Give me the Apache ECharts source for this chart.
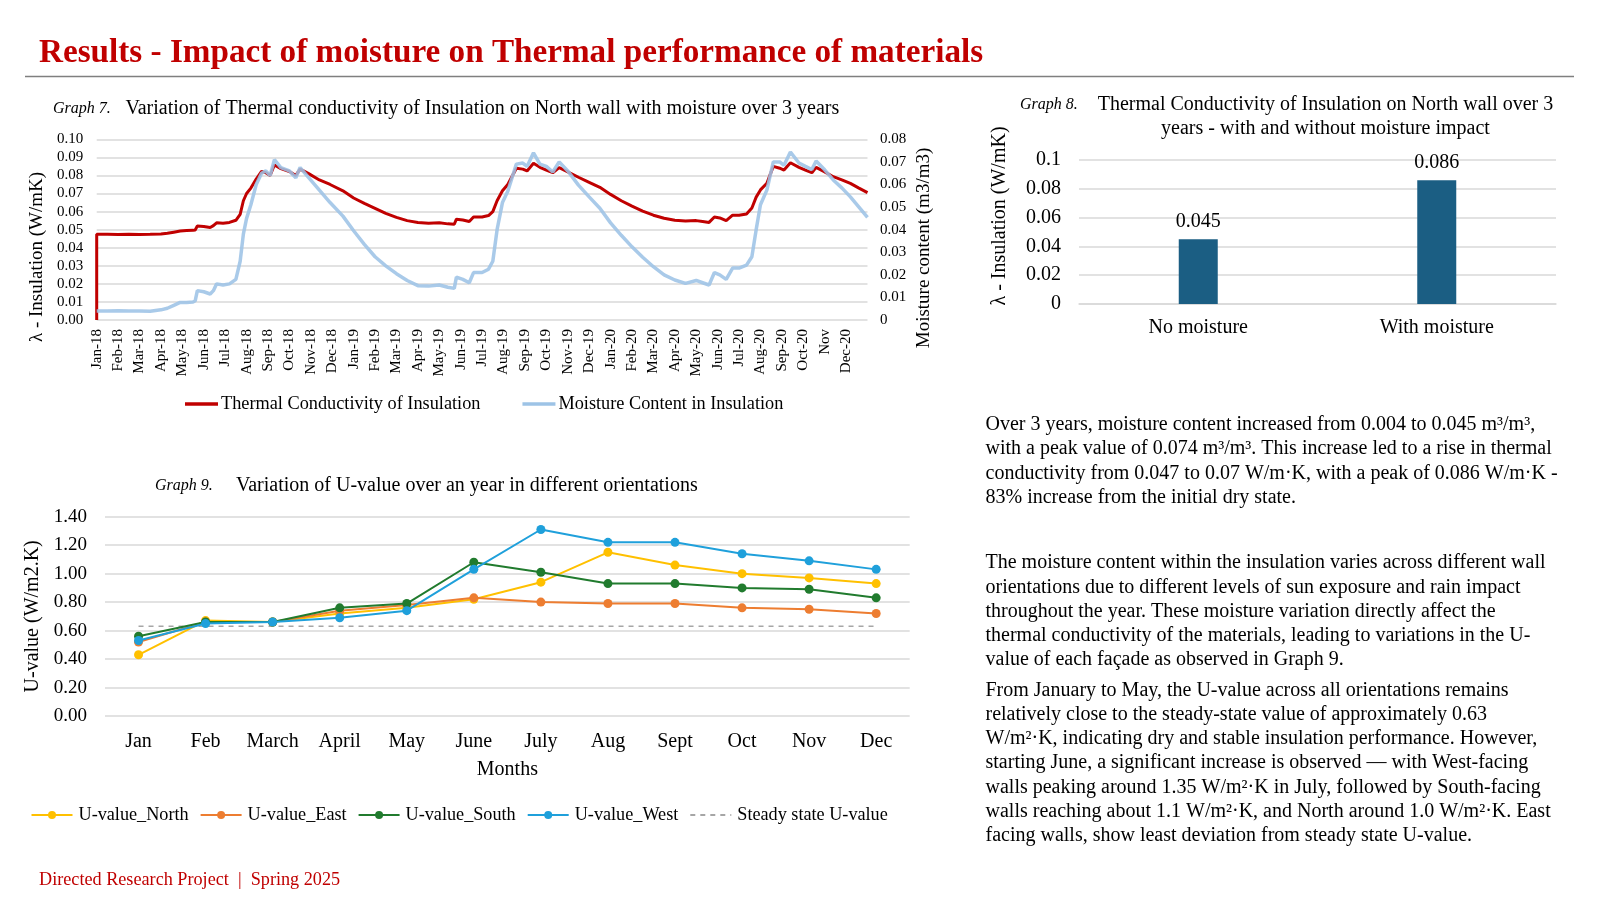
<!DOCTYPE html>
<html>
<head>
<meta charset="utf-8">
<script src="https://cdn.jsdelivr.net/npm/echarts/dist/echarts.min.js"></script>
<style>
html,body{margin:0;padding:0;background:#fff;}
#main{width:1600px;height:900px;}
</style>
</head>
<body>
<div id="main"></div>
<script>
// ---------- Graph 7 data ----------
const monthLabels = ['Jan-18','Feb-18','Mar-18','Apr-18','May-18','Jun-18','Jul-18','Aug-18','Sep-18','Oct-18','Nov-18','Dec-18',
  'Jan-19','Feb-19','Mar-19','Apr-19','May-19','Jun-19','Jul-19','Aug-19','Sep-19','Oct-19','Nov-19','Dec-19',
  'Jan-20','Feb-20','Mar-20','Apr-20','May-20','Jun-20','Jul-20','Aug-20','Sep-20','Oct-20','Nov','Dec-20'];
// sample times in months since Jan-2018
const sampleMonth = [0,0,0.5,1,1.5,2,2.5,3,3.3,3.6,
  3.9,4.2,4.5,4.6,4.7,5,5.3,5.45,5.6,5.9,
  6.2,6.5,6.7,6.85,7,7.2,7.45,7.7,7.9,8.1,
  8.3,8.6,9,9.3,9.5,9.9,10.4,10.9,11.5,12,
  12.5,13,13.5,14,14.5,15,15.5,16,16.4,16.7,
  16.8,17.1,17.4,17.6,18,18.3,18.5,18.7,18.95,19.2,
  19.6,19.9,20.1,20.4,20.7,21,21.3,21.6,22,22.5,
  23,23.5,24,24.5,25,25.5,26,26.5,27,27.5,
  28,28.3,28.6,28.85,29.1,29.4,29.7,30,30.35,30.6,
  30.8,31,31.3,31.6,31.9,32.1,32.4,32.8,33.1,33.4,
  33.6,34,34.4,34.8,35.2,35.6,36];
const thermalConductivity = [0,0.0474,0.0474,0.0473,0.0474,0.0473,0.0474,0.0476,0.048,0.0486,
  0.0492,0.0495,0.0496,0.0498,0.052,0.0518,0.0512,0.0522,0.0538,0.0536,
  0.054,0.0552,0.0585,0.066,0.07,0.073,0.078,0.0822,0.0815,0.08,
  0.0858,0.0838,0.0822,0.08,0.0835,0.081,0.0775,0.075,0.0715,0.0675,
  0.0645,0.0618,0.059,0.0568,0.055,0.054,0.0535,0.0538,0.0532,0.053,
  0.0558,0.0553,0.0545,0.057,0.057,0.0578,0.06,0.066,0.0715,0.075,
  0.084,0.0835,0.0825,0.0867,0.0845,0.083,0.0815,0.0843,0.082,0.079,
  0.0762,0.0734,0.0695,0.066,0.063,0.0603,0.058,0.0563,0.0552,0.0548,
  0.055,0.0545,0.054,0.057,0.0565,0.055,0.058,0.058,0.0587,0.062,
  0.068,0.072,0.0757,0.085,0.084,0.083,0.087,0.0845,0.083,0.0815,
  0.0845,0.082,0.0793,0.0775,0.0756,0.073,0.0705];
const moistureContent = [0.004,0.004,0.004,0.0041,0.004,0.004,0.0039,0.0045,0.0052,0.0065,
  0.0078,0.0078,0.008,0.0085,0.013,0.0125,0.0115,0.013,0.016,0.0155,
  0.016,0.018,0.026,0.038,0.045,0.051,0.06,0.065,0.066,0.064,
  0.071,0.0675,0.066,0.063,0.0675,0.063,0.0575,0.052,0.046,0.0395,
  0.0335,0.028,0.024,0.0205,0.0175,0.0152,0.015,0.0155,0.0145,0.014,
  0.019,0.018,0.0165,0.021,0.021,0.0225,0.026,0.04,0.052,0.057,
  0.069,0.0695,0.068,0.074,0.069,0.068,0.0655,0.07,0.066,0.0597,
  0.0545,0.0495,0.043,0.0375,0.0324,0.0278,0.0236,0.02,0.0177,0.0162,
  0.0175,0.0165,0.0155,0.021,0.02,0.018,0.023,0.023,0.0243,0.028,
  0.04,0.051,0.0575,0.07,0.07,0.0685,0.0744,0.0695,0.068,0.0666,
  0.0704,0.0665,0.062,0.0585,0.0545,0.05,0.0454];

// ---------- Graph 8 data ----------
const barCategories = ['No moisture','With moisture'];
const barValues = [0.045, 0.086];

// ---------- Graph 9 data ----------
const uMonths = ['Jan','Feb','March','April','May','June','July','Aug','Sept','Oct','Nov','Dec'];
const uNorth = [0.43,0.67,0.66,0.72,0.76,0.82,0.94,1.15,1.06,1.00,0.97,0.93];
const uEast  = [0.52,0.66,0.66,0.74,0.78,0.83,0.80,0.79,0.79,0.76,0.75,0.72];
const uSouth = [0.56,0.66,0.66,0.76,0.79,1.08,1.01,0.93,0.93,0.90,0.89,0.83];
const uWest  = [0.53,0.65,0.66,0.69,0.74,1.03,1.31,1.22,1.22,1.14,1.09,1.03];
const uSteady = [0.63,0.63,0.63,0.63,0.63,0.63,0.63,0.63,0.63,0.63,0.63,0.63];

// ---------- Text ----------
const para1 = ['Over 3 years, moisture content increased from 0.004 to 0.045 m\u00b3/m\u00b3,',
  'with a peak value of 0.074 m\u00b3/m\u00b3. This increase led to a rise in thermal',
  'conductivity from 0.047 to 0.07 W/m\u00b7K, with a peak of 0.086 W/m\u00b7K -',
  '83% increase from the initial dry state.'];
const para2 = ['The moisture content within the insulation varies across different wall',
  'orientations due to different levels of sun exposure and rain impact',
  'throughout the year. These moisture variation directly affect the',
  'thermal conductivity of the materials, leading to variations in the U-',
  'value of each fa\u00e7ade as observed in Graph 9.'];
const para3 = ['From January to May, the U-value across all orientations remains',
  'relatively close to the steady-state value of approximately 0.63',
  'W/m\u00b2\u00b7K, indicating dry and stable insulation performance. However,',
  'starting June, a significant increase is observed \u2014 with West-facing',
  'walls peaking around 1.35 W/m\u00b2\u00b7K in July, followed by South-facing',
  'walls reaching about 1.1 W/m\u00b2\u00b7K, and North around 1.0 W/m\u00b2\u00b7K. East',
  'facing walls, show least deviation from steady state U-value.'];

const FF = "'Liberation Serif', 'Times New Roman', serif";
const RED = '#C00000';
const GRID_C = '#D9D9D9';

function txt(x, y, text, size, opts) {
  opts = opts || {};
  return {
    type: 'text', x: x, y: y, rotation: opts.rotation || 0, z: 10,
    style: {
      text: text,
      font: (opts.style || '') + ' ' + (opts.weight || '') + ' ' + size + 'px ' + FF,
      fill: opts.color || '#000',
      textAlign: opts.align || 'left',
      textVerticalAlign: 'middle'
    }
  };
}

const graphics = [];
graphics.push(txt(39, 53, 'Results - Impact of moisture on Thermal performance of materials', 33.2, {weight: 'bold', color: RED}));
graphics.push({type: 'line', shape: {x1: 25, y1: 76.5, x2: 1574, y2: 76.5}, style: {stroke: '#7F7F7F', lineWidth: 1.5}});
graphics.push(txt(53, 109, 'Graph 7.', 16, {style: 'italic'}));
graphics.push(txt(125.5, 109, 'Variation of Thermal conductivity of Insulation on North wall with moisture over 3 years', 20));
graphics.push(txt(37, 257, '\u03bb - Insulation (W/mK)', 19, {align: 'center', rotation: Math.PI / 2}));
graphics.push(txt(924, 248, 'Moisture content (m3/m3)', 19, {align: 'center', rotation: Math.PI / 2}));
graphics.push(txt(1020, 104.5, 'Graph 8.', 16, {style: 'italic'}));
graphics.push(txt(1325.5, 104.5, 'Thermal Conductivity of Insulation on North wall over 3', 20, {align: 'center'}));
graphics.push(txt(1325.5, 128.5, 'years - with and without moisture impact', 20, {align: 'center'}));
graphics.push(txt(1000, 216, '\u03bb - Insulation (W/mK)', 20, {align: 'center', rotation: Math.PI / 2}));
graphics.push(txt(155, 486, 'Graph 9.', 16, {style: 'italic'}));
graphics.push(txt(236, 486, 'Variation of U-value over an year in different orientations', 20));
para1.forEach((l, i) => graphics.push(txt(985.5, 424.4 + i * 24.5, l, 20)));
para2.forEach((l, i) => graphics.push(txt(985.5, 563 + i * 24.3, l, 20)));
para3.forEach((l, i) => graphics.push(txt(985.5, 690.5 + i * 24.2, l, 20)));
graphics.push(txt(39, 880.5, 'Directed Research Project  |  Spring 2025', 18.2, {color: RED}));

const chart = echarts.init(document.getElementById('main'), null, {renderer: 'canvas'});

const lineLegendNames = ['U-value_North','U-value_East','U-value_South','U-value_West','Steady state U-value'];
const uColors = ['#FFC000','#ED7D31','#217B2E','#1FA0DB'];
const uSeriesData = [uNorth, uEast, uSouth, uWest];

const option = {
  backgroundColor: '#fff',
  animation: false,
  textStyle: {fontFamily: FF, color: '#000'},
  graphic: {elements: graphics},
  grid: [
    {left: 96.7, top: 139.3, width: 770.8, height: 180.7, containLabel: false, outerBoundsMode: 'none'},
    {left: 1079, top: 160, width: 477, height: 144, containLabel: false, outerBoundsMode: 'none'},
    {left: 105, top: 516.7, width: 804.7, height: 199.3, containLabel: false, outerBoundsMode: 'none'}
  ],
  legend: [
    {
      data: ['Thermal Conductivity of Insulation', 'Moisture Content in Insulation'],
      left: 180, top: 390, icon: 'rect', itemWidth: 33, itemHeight: 3.5, itemGap: 42,
      textStyle: {fontFamily: FF, fontSize: 18.3, color: '#000', padding: [0, 0, 0, -2]}
    },
    {
      data: [
        {name: 'U-value_North'}, {name: 'U-value_East'}, {name: 'U-value_South'}, {name: 'U-value_West'},
        {name: 'Steady state U-value', itemStyle: {opacity: 0}}
      ],
      left: 25.5, top: 801, itemWidth: 41, itemHeight: 10, itemGap: 11,
      textStyle: {fontFamily: FF, fontSize: 18.2, color: '#000', padding: [0, 0, 0, 1]}
    }
  ],
  xAxis: [
    {
      type: 'value', gridIndex: 0, min: 0, max: 36, interval: 1,
      axisLine: {show: false}, axisTick: {show: false}, splitLine: {show: false},
      axisLabel: {rotate: 90, fontSize: 15, fontFamily: FF, color: '#000', margin: 9,
        formatter: v => monthLabels[Math.round(v)] || ''}
    },
    {
      type: 'category', gridIndex: 1, data: barCategories,
      axisLine: {show: true, lineStyle: {color: GRID_C, width: 1.5}}, axisTick: {show: false},
      axisLabel: {fontSize: 20, fontFamily: FF, color: '#000', margin: 14}
    },
    {
      type: 'category', gridIndex: 2, data: uMonths, boundaryGap: true,
      axisLine: {show: false}, axisTick: {show: false},
      axisLabel: {fontSize: 20, fontFamily: FF, color: '#000', margin: 16, interval: 0},
      name: 'Months', nameLocation: 'middle', nameGap: 44,
      nameTextStyle: {fontSize: 20, fontFamily: FF, color: '#000'}
    }
  ],
  yAxis: [
    {
      type: 'value', gridIndex: 0, min: 0, max: 0.1, interval: 0.01,
      axisLine: {show: false}, axisTick: {show: false},
      splitLine: {show: true, lineStyle: {color: GRID_C, width: 1.5}},
      axisLabel: {fontSize: 15, fontFamily: FF, color: '#000', margin: 13.5, formatter: v => v.toFixed(2)}
    },
    {
      type: 'value', gridIndex: 0, position: 'right', min: 0, max: 0.08, interval: 0.01,
      axisLine: {show: false}, axisTick: {show: false}, splitLine: {show: false},
      axisLabel: {fontSize: 15, fontFamily: FF, color: '#000', margin: 12.5,
        formatter: v => (Math.abs(v) < 1e-9 ? '0' : v.toFixed(2))}
    },
    {
      type: 'value', gridIndex: 1, min: 0, max: 0.1, interval: 0.02,
      axisLine: {show: false}, axisTick: {show: false},
      splitLine: {show: true, lineStyle: {color: GRID_C, width: 1.5}},
      axisLabel: {fontSize: 20, fontFamily: FF, color: '#000', margin: 18,
        formatter: v => (Math.abs(v) < 1e-9 ? '0' : String(+v.toFixed(2)))}
    },
    {
      type: 'value', gridIndex: 2, min: 0, max: 1.4, interval: 0.2,
      axisLine: {show: false}, axisTick: {show: false},
      splitLine: {show: true, lineStyle: {color: GRID_C, width: 1.5}},
      axisLabel: {fontSize: 19, fontFamily: FF, color: '#000', margin: 18, formatter: v => v.toFixed(2)},
      name: 'U-value (W/m2.K)', nameLocation: 'middle', nameGap: 58,
      nameTextStyle: {fontSize: 20, fontFamily: FF, color: '#000'}
    }
  ],
  series: [
    {
      name: 'Thermal Conductivity of Insulation', type: 'line', xAxisIndex: 0, yAxisIndex: 0,
      data: sampleMonth.map((t, i) => [t, thermalConductivity[i]]),
      symbol: 'none', color: RED, lineStyle: {color: RED, width: 3}, z: 2
    },
    {
      name: 'Moisture Content in Insulation', type: 'line', xAxisIndex: 0, yAxisIndex: 1,
      data: sampleMonth.map((t, i) => [t, moistureContent[i]]),
      symbol: 'none', color: '#9DC3E6', lineStyle: {color: '#9DC3E6', width: 3.5, opacity: 0.88}, z: 3
    },
    {
      name: 'Thermal conductivity', type: 'bar', xAxisIndex: 1, yAxisIndex: 2,
      data: barValues, barWidth: 39, itemStyle: {color: '#1B5E83'},
      label: {show: true, position: 'top', distance: 7, fontSize: 20, fontFamily: FF, color: '#000'}
    },
    ...uSeriesData.map((d, k) => ({
      name: lineLegendNames[k], type: 'line', xAxisIndex: 2, yAxisIndex: 3, data: d,
      symbol: 'circle', symbolSize: 9, color: uColors[k],
      itemStyle: {color: uColors[k]}, lineStyle: {color: uColors[k], width: 2}, z: 4 + k
    })),
    {
      name: 'Steady state U-value', type: 'line', xAxisIndex: 2, yAxisIndex: 3, data: uSteady,
      symbol: 'none', color: '#A6A6A6', lineStyle: {color: '#A6A6A6', width: 1.5, type: [5, 5]}, z: 3
    }
  ]
};
chart.setOption(option);
</script>
</body>
</html>
